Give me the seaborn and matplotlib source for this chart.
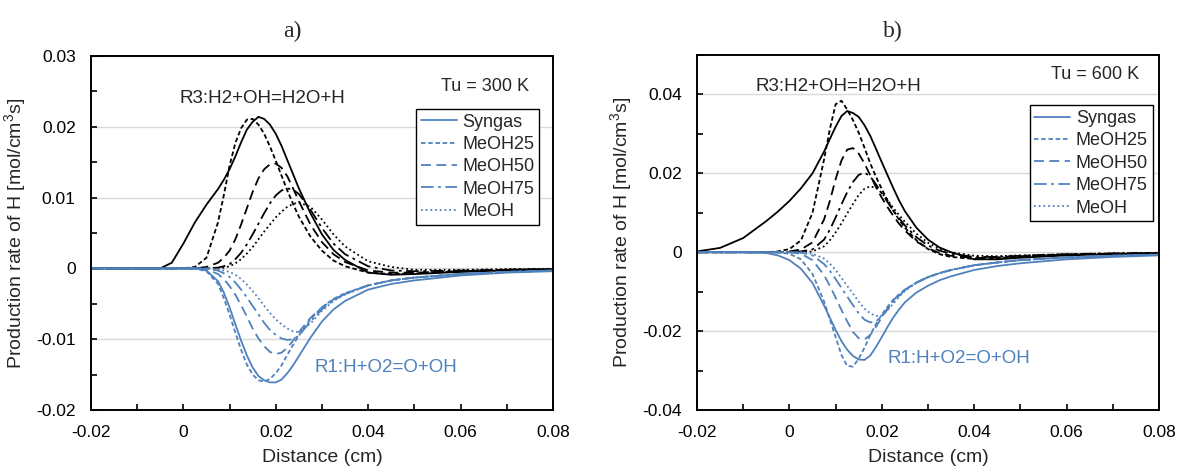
import matplotlib
matplotlib.use("Agg")
import matplotlib.pyplot as plt
import seaborn as sns
from matplotlib.ticker import MultipleLocator, FuncFormatter

# ---------------- data ----------------
x = [-0.02, -0.015, -0.01, -0.005, -0.0025, 0, 0.0025, 0.005,
     0.0075, 0.00875, 0.01, 0.01125, 0.0125, 0.01375, 0.015, 0.01625, 0.0175, 0.01875,
     0.02, 0.02125, 0.0225, 0.02375, 0.025,
     0.0275, 0.03, 0.0325, 0.035, 0.04, 0.045, 0.05, 0.06, 0.07, 0.08]

cases = ["Syngas", "MeOH25", "MeOH50", "MeOH75", "MeOH"]

# Panel a (Tu = 300 K) - R3: H2+OH=H2O+H
a_r3_syngas = [0, 0, 0, 0, 0.0008, 0.0035, 0.0065, 0.0090,
               0.0112, 0.0125, 0.0140, 0.0158, 0.0178, 0.0196, 0.0207, 0.0214, 0.0211, 0.0203, 0.0190, 0.0173, 0.0153, 0.0133, 0.0113,
               0.0078, 0.0048, 0.0026, 0.0012, -0.0006, -0.0009, -0.0008, -0.0005, -0.0003, -0.0002]
a_r3_meoh25 = [0, 0, 0, 0, 0, 0, 0.0002, 0.0015,
               0.0065, 0.0103, 0.0145, 0.0177, 0.0198, 0.0210, 0.0211, 0.0203, 0.0190, 0.0172, 0.0152, 0.0131, 0.0110, 0.0091, 0.0073,
               0.0045, 0.0025, 0.0011, 0.0003, -0.0006, -0.0008, -0.0007, -0.0004, -0.0002, -0.0001]
a_r3_meoh50 = [0, 0, 0, 0, 0, 0, 0, 0.0002,
               0.0008, 0.0015, 0.0025, 0.0041, 0.0062, 0.0085, 0.0108, 0.0127, 0.0140, 0.0147, 0.0148, 0.0142, 0.0130, 0.0113, 0.0095,
               0.0062, 0.0037, 0.0020, 0.0009, -0.0003, -0.0006, -0.0006, -0.0004, -0.0002, -0.0001]
a_r3_meoh75 = [0, 0, 0, 0, 0, 0, 0, 0,
               0.0001, 0.0003, 0.0006, 0.0013, 0.0022, 0.0034, 0.0048, 0.0063, 0.0078, 0.0092, 0.0103, 0.0110, 0.0113, 0.0111, 0.0105,
               0.0083, 0.0057, 0.0035, 0.0020, 0.0003, -0.0003, -0.0004, -0.0003, -0.0002, -0.0001]
a_r3_meoh = [0, 0, 0, 0, 0, 0, 0, 0,
             0, 0.0001, 0.0003, 0.0007, 0.0013, 0.0021, 0.0030, 0.0041, 0.0052, 0.0062, 0.0072, 0.0080, 0.0087, 0.0091, 0.0093,
             0.0087, 0.0069, 0.0048, 0.0031, 0.0010, 0.0002, -0.0002, -0.0002, -0.0001, -0.0001]

# Panel a - R1: H+O2=O+OH
a_r1_syngas = [0, 0, 0, 0, 0, 0, 0, -0.0003,
               -0.0018, -0.0034, -0.0055, -0.0079, -0.0102, -0.0123, -0.0140, -0.0152, -0.0158, -0.0161, -0.0161, -0.0157, -0.0148, -0.0137, -0.0124,
               -0.0098, -0.0075, -0.0058, -0.0046, -0.0030, -0.0022, -0.0017, -0.0010, -0.0006, -0.0004]
a_r1_meoh25 = [0, 0, 0, 0, 0, 0, 0, -0.0004,
               -0.0022, -0.0042, -0.0065, -0.0091, -0.0115, -0.0136, -0.0150, -0.0158, -0.0160, -0.0156, -0.0148, -0.0137, -0.0122, -0.0108, -0.0095,
               -0.0072, -0.0055, -0.0043, -0.0035, -0.0024, -0.0017, -0.0013, -0.0008, -0.0005, -0.0003]
a_r1_meoh50 = [0, 0, 0, 0, 0, 0, 0, -0.0001,
               -0.0008, -0.0015, -0.0025, -0.0037, -0.0052, -0.0068, -0.0085, -0.0099, -0.0110, -0.0118, -0.0121, -0.0119, -0.0112, -0.0102, -0.0090,
               -0.0070, -0.0055, -0.0044, -0.0036, -0.0024, -0.0017, -0.0013, -0.0008, -0.0005, -0.0003]
a_r1_meoh75 = [0, 0, 0, 0, 0, 0, 0, 0,
               -0.0003, -0.0007, -0.0012, -0.0020, -0.0030, -0.0041, -0.0053, -0.0065, -0.0077, -0.0087, -0.0094, -0.0099, -0.0101, -0.0100, -0.0095,
               -0.0075, -0.0058, -0.0045, -0.0036, -0.0024, -0.0017, -0.0013, -0.0008, -0.0005, -0.0003]
a_r1_meoh = [0, 0, 0, 0, 0, 0, 0, 0,
             -0.0001, -0.0003, -0.0005, -0.0009, -0.0015, -0.0023, -0.0032, -0.0042, -0.0053, -0.0063, -0.0072, -0.0079, -0.0085, -0.0089, -0.0090,
             -0.0078, -0.0060, -0.0046, -0.0037, -0.0024, -0.0017, -0.0013, -0.0008, -0.0005, -0.0003]

# Panel b (Tu = 600 K) - R3
b_r3_syngas = [0.0002, 0.0011, 0.0036, 0.0079, 0.0103, 0.0130, 0.0162, 0.0200,
               0.0255, 0.0287, 0.0318, 0.0345, 0.0358, 0.0353, 0.0343, 0.0322, 0.0295, 0.0262, 0.0228, 0.0195, 0.0162, 0.0131, 0.0104,
               0.0062, 0.0032, 0.0012, 0.0000, -0.0018, -0.0018, -0.0014, -0.0008, -0.0005, -0.0003]
b_r3_meoh25 = [0, 0, 0, 0, 0.0002, 0.0008, 0.0030, 0.0100,
               0.0235, 0.0312, 0.0375, 0.0384, 0.0362, 0.0335, 0.0303, 0.0265, 0.0225, 0.0191, 0.0160, 0.0131, 0.0105, 0.0082, 0.0062,
               0.0030, 0.0008, -0.0005, -0.0012, -0.0017, -0.0015, -0.0011, -0.0006, -0.0004, -0.0002]
b_r3_meoh50 = [0, 0, 0, 0, 0, 0.0002, 0.0007, 0.0025,
               0.0083, 0.0130, 0.0185, 0.0232, 0.0260, 0.0264, 0.0250, 0.0225, 0.0195, 0.0165, 0.0138, 0.0114, 0.0092, 0.0072, 0.0055,
               0.0027, 0.0010, -0.0002, -0.0009, -0.0015, -0.0013, -0.0010, -0.0006, -0.0004, -0.0002]
b_r3_meoh75 = [0, 0, 0, 0, 0, 0, 0.0002, 0.0007,
               0.0032, 0.0057, 0.0088, 0.0121, 0.0152, 0.0178, 0.0196, 0.0202, 0.0192, 0.0172, 0.0150, 0.0127, 0.0105, 0.0086, 0.0068,
               0.0038, 0.0017, 0.0004, -0.0004, -0.0012, -0.0012, -0.0009, -0.0005, -0.0003, -0.0002]
b_r3_meoh = [0, 0, 0, 0, 0, 0, 0, 0.0002,
             0.0015, 0.0030, 0.0050, 0.0073, 0.0098, 0.0122, 0.0145, 0.0161, 0.0167, 0.0163, 0.0150, 0.0132, 0.0112, 0.0094, 0.0077,
             0.0047, 0.0024, 0.0009, 0.0000, -0.0009, -0.0010, -0.0008, -0.0005, -0.0003, -0.0002]

# Panel b - R1
b_r1_syngas = [0, 0, 0, -0.0002, -0.0008, -0.0020, -0.0042, -0.0078,
               -0.0135, -0.0166, -0.0197, -0.0225, -0.0247, -0.0263, -0.0272, -0.0273, -0.0262, -0.0240, -0.0215, -0.0189, -0.0165, -0.0145, -0.0127,
               -0.0102, -0.0085, -0.0071, -0.0061, -0.0045, -0.0035, -0.0028, -0.0018, -0.0012, -0.0008]
b_r1_meoh25 = [0, 0, 0, 0, 0, -0.0004, -0.0018, -0.0055,
               -0.0125, -0.0170, -0.0215, -0.0260, -0.0288, -0.0290, -0.0270, -0.0242, -0.0210, -0.0182, -0.0158, -0.0138, -0.0120, -0.0107, -0.0095,
               -0.0077, -0.0063, -0.0053, -0.0045, -0.0033, -0.0026, -0.0020, -0.0013, -0.0009, -0.0006]
b_r1_meoh50 = [0, 0, 0, 0, 0, 0, -0.0004, -0.0020,
               -0.0058, -0.0085, -0.0115, -0.0146, -0.0175, -0.0202, -0.0218, -0.0221, -0.0210, -0.0189, -0.0165, -0.0142, -0.0122, -0.0107, -0.0095,
               -0.0077, -0.0063, -0.0053, -0.0045, -0.0033, -0.0026, -0.0020, -0.0013, -0.0009, -0.0006]
b_r1_meoh75 = [0, 0, 0, 0, 0, 0, -0.0001, -0.0008,
               -0.0030, -0.0047, -0.0068, -0.0090, -0.0112, -0.0134, -0.0155, -0.0171, -0.0178, -0.0175, -0.0163, -0.0145, -0.0125, -0.0110, -0.0096,
               -0.0077, -0.0063, -0.0053, -0.0045, -0.0033, -0.0026, -0.0020, -0.0013, -0.0009, -0.0006]
b_r1_meoh = [0, 0, 0, 0, 0, 0, 0, -0.0004,
             -0.0016, -0.0029, -0.0045, -0.0065, -0.0085, -0.0105, -0.0125, -0.0143, -0.0155, -0.0162, -0.0160, -0.0147, -0.0130, -0.0113, -0.0098,
             -0.0078, -0.0064, -0.0053, -0.0045, -0.0033, -0.0026, -0.0020, -0.0013, -0.0009, -0.0006]

panels = [
    dict(title="a)", tu="Tu = 300 K",
         r3=[a_r3_syngas, a_r3_meoh25, a_r3_meoh50, a_r3_meoh75, a_r3_meoh],
         r1=[a_r1_syngas, a_r1_meoh25, a_r1_meoh50, a_r1_meoh75, a_r1_meoh],
         ylim=(-0.02, 0.03), major=0.01, minor=0.005),
    dict(title="b)", tu="Tu = 600 K",
         r3=[b_r3_syngas, b_r3_meoh25, b_r3_meoh50, b_r3_meoh75, b_r3_meoh],
         r1=[b_r1_syngas, b_r1_meoh25, b_r1_meoh50, b_r1_meoh75, b_r1_meoh],
         ylim=(-0.04, 0.05), major=0.02, minor=0.01),
]

# ---------------- style ----------------
sns.set_theme(style="white")
plt.rcParams["font.family"] = ["Liberation Sans", "DejaVu Sans"]
plt.rcParams["mathtext.fontset"] = "custom"
plt.rcParams["mathtext.rm"] = "Liberation Sans"

BLUE = "#4f81bd"
styles = ["-", (0, (2.5, 1.5)), (0, (5.5, 3)), (0, (7, 2.5, 1.5, 2.5)), (0, (1, 1.6))]

fig = plt.figure(figsize=(11.83, 4.74), dpi=100)
boxes = [[0.0769, 0.135, 0.3905, 0.747], [0.5892, 0.135, 0.3905, 0.749]]
label_pos = [dict(tu=(0.948, 0.915), r3=(0.37, 0.881), r1=(0.483, 0.121)),
             dict(tu=(0.957, 0.944), r3=(0.305, 0.91), r1=(0.413, 0.144))]
leg_pos = [(0.97, 0.85), (0.986, 0.858)]
title_pos = [(292 / 1183, 1 - 31 / 474), (893 / 1183, 1 - 31 / 474)]


def fmt(v, pos):
    if abs(v) < 1e-12:
        return "0"
    return f"{v:.2f}"


for i, p in enumerate(panels):
    ax = fig.add_axes(boxes[i])
    for k, name in enumerate(cases):
        sns.lineplot(x=x, y=p["r3"][k], ax=ax, color="black", linestyle=styles[k],
                     linewidth=1.3, estimator=None, sort=False)
    for k, name in enumerate(cases):
        sns.lineplot(x=x, y=p["r1"][k], ax=ax, color=BLUE, linestyle=styles[k],
                     linewidth=1.3, estimator=None, sort=False, label=name)
    ax.set_xlim(-0.02, 0.08)
    ax.set_ylim(*p["ylim"])
    ax.xaxis.set_major_locator(MultipleLocator(0.02))
    ax.xaxis.set_minor_locator(MultipleLocator(0.01))
    ax.yaxis.set_major_locator(MultipleLocator(p["major"]))
    ax.yaxis.set_minor_locator(MultipleLocator(p["minor"]))
    ax.xaxis.set_major_formatter(FuncFormatter(fmt))
    ax.yaxis.set_major_formatter(FuncFormatter(fmt))
    ax.grid(axis="y", which="major", color="#d9d9d9", linewidth=1)
    ax.set_axisbelow(True)
    ax.tick_params(which="both", direction="in", length=4, width=1.2, colors="black",
                   labelsize=12.5, bottom=True, left=True, pad=11)
    for sp in ax.spines.values():
        sp.set_color("black")
        sp.set_linewidth(1.4)
    ax.set_xlabel("Distance (cm)", fontsize=14, labelpad=6)
    ax.set_ylabel("Production rate of H [mol/cm$^3$s]", fontsize=14, labelpad=5)
    fig.text(*title_pos[i], p["title"], fontsize=17, family=["Liberation Serif"],
             ha="center", va="center")
    lp = label_pos[i]
    ax.text(*lp["tu"], p["tu"], transform=ax.transAxes, ha="right", va="center", fontsize=13)
    ax.text(*lp["r3"], "R3:H2+OH=H2O+H", transform=ax.transAxes, ha="center", va="center",
            fontsize=13.5)
    ax.text(*lp["r1"], "R1:H+O2=O+OH", transform=ax.transAxes, ha="left", va="center",
            fontsize=13.5, color=BLUE)
    leg = ax.legend(loc="upper right", bbox_to_anchor=leg_pos[i], frameon=True, fancybox=False,
                    edgecolor="black", fontsize=13, handlelength=2.0, handletextpad=0.3,
                    borderpad=0.25, labelspacing=0.3, framealpha=1, borderaxespad=0)
    leg.get_frame().set_linewidth(1.0)

fig.savefig("out.png", dpi=100)
